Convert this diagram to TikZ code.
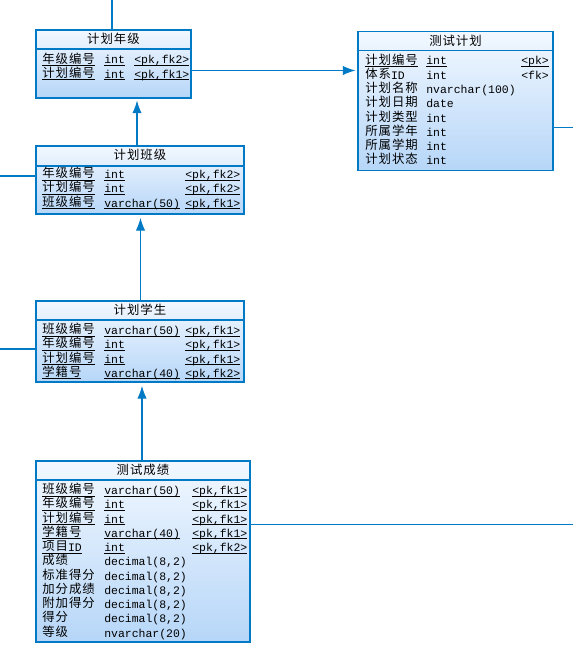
\documentclass[tikz,border=0pt]{standalone}
\usepackage{fontspec}
\setmainfont{Liberation Mono}
\newfontfamily\cjk[Scale=1.08,LetterSpace=8]{Noto Sans CJK SC}
\usetikzlibrary{arrows.meta,fit,calc}
\definecolor{erline}{RGB}{0,122,196}
\definecolor{ertop}{RGB}{242,248,255}
\definecolor{erbot}{RGB}{182,214,248}
\newcommand\zh[1]{\raisebox{0.7pt}{\cjk #1}}
\newcommand\keyf[1]{\leavevmode\setbox0=\hbox{#1}\rlap{\rule[-1.5pt]{\wd0}{0.65pt}}\smash{\box0}}
\newcommand\fld[1]{\leavevmode\smash{#1}}

\begin{document}
\begin{tikzpicture}[x=0.75pt, y=-0.75pt, >={Latex[length=9.5pt,width=7pt]},
  font=\fontsize{8.6}{10.7}\selectfont,
  entity/.style={draw=erline, line width=0.8pt, top color=ertop, bottom color=erbot, inner sep=0pt},
  title/.style={font=\fontsize{8.6}{10.7}\selectfont\cjk, inner sep=0pt},
  body/.style={anchor=base west, inner sep=0pt},
  rel/.style={draw=erline, line width=0.8pt}]
\useasboundingbox (0,0) rectangle (573,663);

% tables
\node[entity, fit={(36,30) (191,98)}] (jhnj) {};
\node[title] (jhnj-t) at ($(jhnj.north)+(0,9.5)$) {计划年级};
\draw[rel] (jhnj.west |- 0,49) -- (jhnj.east |- 0,49);
\node[body] (jhnj-b) at (42,64) {\begin{tabular}[t]{@{}p{46.5pt}@{}p{22.5pt}@{}l@{}}
  \keyf{\zh{年级编号}} & \keyf{int} & \keyf{<pk,fk2>}\\
  \keyf{\zh{计划编号}} & \keyf{int} & \keyf{<pk,fk1>}
\end{tabular}};

\node[entity, fit={(358,31.5) (553,170.5)}] (csjh) {};
\node[title] (csjh-t) at ($(csjh.north)+(0,9.5)$) {测试计划};
\draw[rel] (csjh.west |- 0,50.5) -- (csjh.east |- 0,50.5);
\node[body] (csjh-b) at (365,65) {\begin{tabular}[t]{@{}p{45.75pt}@{}p{71.25pt}@{}l@{}}
  \keyf{\zh{计划编号}} & \keyf{int} & \keyf{<pk>}\\
  \fld{\zh{体系}ID} & \fld{int} & \fld{<fk>}\\
  \fld{\zh{计划名称}} & \fld{nvarchar(100)} & \\
  \fld{\zh{计划日期}} & \fld{date} & \\
  \fld{\zh{计划类型}} & \fld{int} & \\
  \fld{\zh{所属学年}} & \fld{int} & \\
  \fld{\zh{所属学期}} & \fld{int} & \\
  \fld{\zh{计划状态}} & \fld{int} &
\end{tabular}};

\node[entity, fit={(36,146) (244,214)}] (jhbj) {};
\node[title] (jhbj-t) at ($(jhbj.north)+(0,9.5)$) {计划班级};
\draw[rel] (jhbj.west |- 0,166) -- (jhbj.east |- 0,166);
\node[body] (jhbj-b) at (42,178.5) {\begin{tabular}[t]{@{}p{46.5pt}@{}p{60.75pt}@{}l@{}}
  \keyf{\zh{年级编号}} & \keyf{int} & \keyf{<pk,fk2>}\\
  \keyf{\zh{计划编号}} & \keyf{int} & \keyf{<pk,fk2>}\\
  \keyf{\zh{班级编号}} & \keyf{varchar(50)} & \keyf{<pk,fk1>}
\end{tabular}};

\node[entity, fit={(36,301) (244,382)}] (jhxs) {};
\node[title] (jhxs-t) at ($(jhxs.north)+(0,9.5)$) {计划学生};
\draw[rel] (jhxs.west |- 0,320) -- (jhxs.east |- 0,320);
\node[body] (jhxs-b) at (42,334.5) {\begin{tabular}[t]{@{}p{46.5pt}@{}p{60.75pt}@{}l@{}}
  \keyf{\zh{班级编号}} & \keyf{varchar(50)} & \keyf{<pk,fk1>}\\
  \keyf{\zh{年级编号}} & \keyf{int} & \keyf{<pk,fk1>}\\
  \keyf{\zh{计划编号}} & \keyf{int} & \keyf{<pk,fk1>}\\
  \keyf{\zh{学籍号}} & \keyf{varchar(40)} & \keyf{<pk,fk2>}
\end{tabular}};

\node[entity, fit={(36,461) (250,642)}] (cscj) {};
\node[title] (cscj-t) at ($(cscj.north)+(0,9.5)$) {测试成绩};
\draw[rel] (cscj.west |- 0,480) -- (cscj.east |- 0,480);
\node[body] (cscj-b) at (42,494.5) {\begin{tabular}[t]{@{}p{46.5pt}@{}p{66pt}@{}l@{}}
  \keyf{\zh{班级编号}} & \keyf{varchar(50)} & \keyf{<pk,fk1>}\\
  \keyf{\zh{年级编号}} & \keyf{int} & \keyf{<pk,fk1>}\\
  \keyf{\zh{计划编号}} & \keyf{int} & \keyf{<pk,fk1>}\\
  \keyf{\zh{学籍号}} & \keyf{varchar(40)} & \keyf{<pk,fk1>}\\
  \keyf{\zh{项目}ID} & \keyf{int} & \keyf{<pk,fk2>}\\
  \fld{\zh{成绩}} & \fld{decimal(8,2)} & \\
  \fld{\zh{标准得分}} & \fld{decimal(8,2)} & \\
  \fld{\zh{加分成绩}} & \fld{decimal(8,2)} & \\
  \fld{\zh{附加得分}} & \fld{decimal(8,2)} & \\
  \fld{\zh{得分}} & \fld{decimal(8,2)} & \\
  \fld{\zh{等级}} & \fld{nvarchar(20)} &
\end{tabular}};

% references
\coordinate (n0) at (112,0);
\draw[rel] (n0) -- (jhnj.north -| n0);
\draw[rel,->,shorten >=1.5pt] (jhnj.east |- 0,70.5) -- (csjh.west |- 0,70.5);
\draw[rel,->,shorten >=1.5pt] (jhbj.north -| 137,0) -- (jhnj.south -| 137,0);
\coordinate (b0) at (0,176);
\draw[rel] (jhbj.west |- b0) -- (b0);
\draw[rel,->,shorten >=2.5pt] (jhxs.north -| 140.5,0) -- (jhbj.south -| 140.5,0);
\coordinate (x0) at (0,349);
\draw[rel] (jhxs.west |- x0) -- (x0);
\draw[rel,->,shorten >=2.5pt] (cscj.north -| 142,0) -- (jhxs.south -| 142,0);
\coordinate (c0) at (573,524.3);
\draw[rel] (cscj.east |- c0) -- (c0);
\coordinate (h0) at (573,127.3);
\draw[rel] (csjh.east |- h0) -- (h0);
\end{tikzpicture}
\end{document}
